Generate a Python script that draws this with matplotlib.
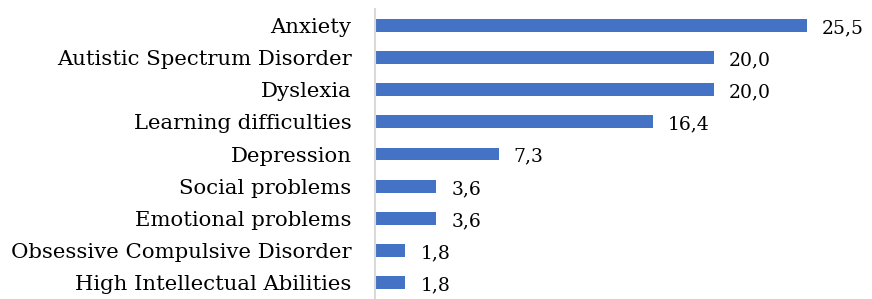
import matplotlib
matplotlib.use("Agg")
import matplotlib.pyplot as plt

categories = ["Anxiety", "Autistic Spectrum Disorder", "Dyslexia", "Learning difficulties",
              "Depression", "Social problems", "Emotional problems",
              "Obsessive Compulsive Disorder", "High Intellectual Abilities"]
values = [25.5, 20.0, 20.0, 16.4, 7.3, 3.6, 3.6, 1.8, 1.8]
value_labels = ["25,5", "20,0", "20,0", "16,4", "7,3", "3,6", "3,6", "1,8", "1,8"]

plt.rcParams['font.family'] = ['DejaVu Serif']

fig = plt.figure(figsize=(8.72, 2.99), dpi=100)
ax = fig.add_axes([375/872, 0/299, (849-375)/872, 290/299])

ypos = list(range(len(categories)))[::-1]
ax.barh(ypos, values, height=0.40, color="#4472C4")
ax.set_ylim(-0.5, len(categories) - 0.5)
ax.set_xlim(0, 28)
ax.set_yticks(ypos)
ax.set_yticklabels(categories, fontsize=15.3, color="#000000")
ax.tick_params(axis='y', length=0, pad=17)
ax.set_xticks([])
for s in ["top", "right", "bottom"]:
    ax.spines[s].set_visible(False)
ax.spines["left"].set_color("#d9d9d9")
ax.spines["left"].set_linewidth(1.5)

for y, v, lab in zip(ypos, values, value_labels):
    ax.annotate(lab, (v, y), xytext=(11, -2), textcoords="offset points",
                va="center", ha="left", fontsize=13.5, color="#000000")

fig.savefig("out.png", dpi=100)
